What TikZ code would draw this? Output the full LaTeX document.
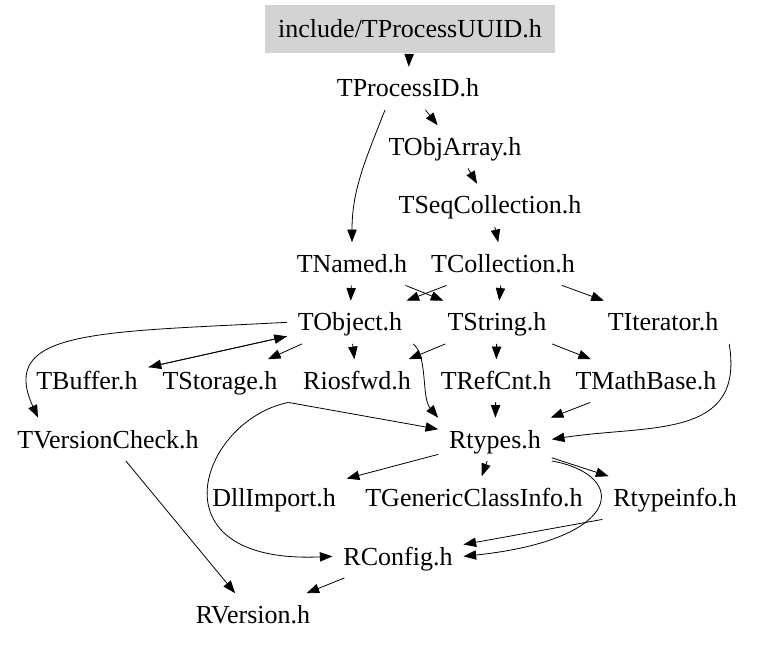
\documentclass[tikz,border=0pt]{standalone}
\usepackage{fontspec}
\setmainfont{Liberation Serif}
\usepackage{tikz}
\usetikzlibrary{calc, arrows.meta}
\definecolor{hdrgray}{HTML}{D3D3D3}

\begin{document}
\begin{tikzpicture}[x=0.75pt, y=-0.75pt,
    font=\fontsize{19.5}{22}\selectfont,
    file/.style={anchor=base, text height=13pt, text depth=0pt, inner xsep=8pt, inner ysep=9.5pt},
    rootfile/.style={file, fill=hdrgray, inner xsep=10pt, inner ysep=11.5pt},
    dep/.style={-{Triangle[length=9.5pt, width=7pt]}, line width=0.6pt}]
    \useasboundingbox (0,0) rectangle (757,645);

    % header files, one row per rank
    \node[rootfile] (uuid) at (410,38) {include/TProcessUUID.h};
    \node[file] (pid) at (408,97) {TProcessID.h};
    \node[file] (objarr) at (455,155.5) {TObjArray.h};
    \node[file] (seqcol) at (490,214) {TSeqCollection.h};
    \node[file] (named) at (352,272.5) {TNamed.h};
    \node[file] (coll) at (503,272.5) {TCollection.h};
    \node[file] (tobj) at (350,331) {TObject.h};
    \node[file] (tstr) at (497,331) {TString.h};
    \node[file] (titer) at (663,331) {TIterator.h};
    \node[file] (tbuf) at (87,389.5) {TBuffer.h};
    \node[file] (tstor) at (220,389.5) {TStorage.h};
    \node[file] (rios) at (357,389.5) {Riosfwd.h};
    \node[file] (trefcnt) at (496,389.5) {TRefCnt.h};
    \node[file] (tmath) at (646,389.5) {TMathBase.h};
    \node[file] (tvc) at (108,448) {TVersionCheck.h};
    \node[file] (rtypes) at (495,448) {Rtypes.h};
    \node[file] (dll) at (274,506.5) {DllImport.h};
    \node[file] (tgci) at (474,506.5) {TGenericClassInfo.h};
    \node[file] (rtinfo) at (675,506.5) {Rtypeinfo.h};
    \node[file] (rconf) at (398,565) {RConfig.h};
    \node[file] (rver) at (253,623.5) {RVersion.h};

    % upper part
    \draw[dep] (uuid) -- (pid);
    \draw[dep] (pid) -- (objarr);
    \draw[dep] ($(pid.south)+(-23,0)$) .. controls +(-20,51) and +(0,-52) .. (named.north);
    \draw[dep] (objarr) -- (seqcol);
    \draw[dep] (seqcol) -- (coll);
    \draw[dep] (named) -- (tobj);
    \draw[dep] (named) -- (tstr);
    \draw[dep] (coll) -- (tobj);
    \draw[dep] (coll) -- (tstr);
    \draw[dep] (coll) -- (titer);

    % TObject.h and TString.h
    \draw[dep] (tobj) -- (tbuf);
    \draw[dep] (tbuf) -- (tobj);
    \draw[dep] (tobj.west) .. controls +(-190,10) and +(-40,-88) .. ($(tvc.north)+(-70,0)$);
    \draw[dep] (tobj) -- (tstor);
    \draw[dep] (tobj) -- (rios);
    \draw[dep] (tobj.south east) .. controls +(15,11) and +(-17,-20) .. (rtypes.north west);
    \draw[dep] (tstr) -- (rios);
    \draw[dep] (tstr) -- (trefcnt);
    \draw[dep] (tstr) -- (tmath);

    % into Rtypes.h
    \draw[dep] (trefcnt) -- (rtypes);
    \draw[dep] (tmath) -- (rtypes);
    \draw[dep] (titer.south east) .. controls +(16,96) and +(97,-15) .. (rtypes.east);
    \draw[dep] (tstor.south east) -- (rtypes);
    \draw[dep] (tstor.south east) .. controls +(-88,18) and +(-183,8) .. (rconf.west);

    % lower part
    \draw[dep] (rtypes) -- (dll);
    \draw[dep] (rtypes) -- (tgci);
    \draw[dep] (rtypes) -- (rtinfo);
    \draw[dep] (rtypes.south east) .. controls +(77,14) and +(162,-17) .. (rconf.east);
    \draw[dep] (rtinfo.south west) -- (rconf);
    \draw[dep] (rconf) -- (rver);
    \draw[dep] (tvc) -- (rver);
\end{tikzpicture}
\end{document}
